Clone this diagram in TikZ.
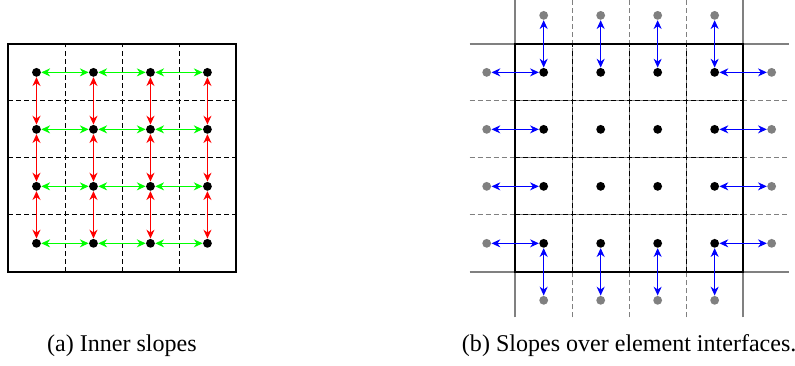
\documentclass[tikz,border=0pt]{standalone}
\usepackage{fontspec}
\newfontfamily\capfont{Liberation Serif}
\usetikzlibrary{arrows.meta}
\tikzset{
  dot/.style={circle,fill=black,inner sep=0pt,minimum size=4.4pt},
  ghost/.style={dot,fill=gray},
  slope/.style={{Stealth[length=4.4pt,width=4pt,inset=1.4pt]}-{Stealth[length=4.4pt,width=4pt,inset=1.4pt]},line width=0.55pt},
  gridline/.style={dash pattern=on 2.5pt off 1.5pt,line width=0.4pt},
}
\begin{document}
\begin{tikzpicture}[font=\capfont\fontsize{12}{14}\selectfont]
\useasboundingbox (-0.14,-1.65) rectangle (13.81,4.77);
\begin{scope}
\foreach \x in {1,2,3}{\draw[gridline](\x,0)--(\x,4);\draw[gridline](0,\x)--(4,\x);}
\draw[line width=1pt](0,0) rectangle (4,4);
\foreach \i in {1,...,4}\foreach \j in {1,...,4}\node[dot](a\i\j) at (\i-0.5,\j-0.5){};
\foreach \i/\k in {1/2,2/3,3/4}\foreach \j in {1,...,4}{\draw[slope,green](a\i\j)--(a\k\j);\draw[slope,red](a\j\i)--(a\j\k);}
\node[anchor=base](capa) at (2,-1.40){(a) Inner slopes};
\end{scope}
\begin{scope}[xshift=8.9cm]
% neighbouring elements
\foreach \x in {1,2,3}{\draw[gridline,gray](\x,-0.8)--(\x,4.8);\draw[gridline,gray](-0.8,\x)--(4.8,\x);}
\draw[gray,line width=1pt](0,-0.8)--(0,4.8) (4,-0.8)--(4,4.8) (-0.8,0)--(4.8,0) (-0.8,4)--(4.8,4);
\foreach \x in {1,2,3}{\draw[gridline](\x,0)--(\x,4);\draw[gridline](0,\x)--(4,\x);}
\draw[line width=1pt](0,0) rectangle (4,4);
\foreach \i in {1,...,4}\foreach \j in {1,...,4}\node[dot](b\i\j) at (\i-0.5,\j-0.5){};
\foreach \j in {1,...,4}{
  \node[ghost](gl\j) at (-0.5,\j-0.5){};
  \node[ghost](gr\j) at (4.5,\j-0.5){};
  \node[ghost](gb\j) at (\j-0.5,-0.5){};
  \node[ghost](gt\j) at (\j-0.5,4.5){};
  \draw[slope,blue](gl\j)--(b1\j);
  \draw[slope,blue](b4\j)--(gr\j);
  \draw[slope,blue](gb\j)--(b\j1);
  \draw[slope,blue](b\j4)--(gt\j);
}
\node[anchor=base](capb) at (2,-1.40){(b) Slopes over element interfaces.};
\end{scope}
\end{tikzpicture}
\end{document}
